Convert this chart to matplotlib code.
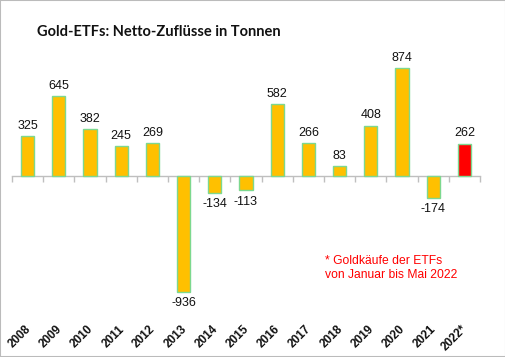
import matplotlib
matplotlib.use("Agg")
import matplotlib.pyplot as plt
from matplotlib.transforms import blended_transform_factory
from matplotlib.patches import Rectangle
import numpy as np

years = ["2008", "2009", "2010", "2011", "2012", "2013", "2014", "2015",
         "2016", "2017", "2018", "2019", "2020", "2021", "2022*"]
values = [325, 645, 382, 245, 269, -936, -134, -113, 582, 266, 83, 408, 874, -174, 262]
colors = ["#FFC000"] * 14 + ["#FF0000"]

title = "Gold-ETFs: Netto-Zuflüsse in Tonnen"
note = "* Goldkäufe der ETFs\nvon Januar bis Mai 2022"

W, H = 506, 357
fig = plt.figure(figsize=(W / 100, H / 100), dpi=100)
fig.patch.set_facecolor("white")

left, right = 12 / W, 480 / W
top_px, bot_px = 40, 300
ax = fig.add_axes([left, 1 - bot_px / H, right - left, (bot_px - top_px) / H])

x = np.arange(len(years))
bars = ax.bar(x, values, width=0.42, color=colors, edgecolor="#7DD88F", linewidth=1.0, zorder=3)

ax.set_xlim(-0.5, len(years) - 0.5)
ax.set_ylim(-1003, 1100)

for s in ["left", "right", "top"]:
    ax.spines[s].set_visible(False)
ax.spines["bottom"].set_position(("data", 0))
ax.spines["bottom"].set_color("#BFBFBF")
ax.spines["bottom"].set_linewidth(1.0)
ax.set_yticks([])
ax.set_xticks([])
ax.set_xticks(np.arange(-0.5, len(years)), minor=True)
ax.tick_params(axis="x", which="minor", direction="out", length=4, color="#BFBFBF", width=1.0)
ax.tick_params(axis="x", which="major", length=0, labelbottom=False)

for xi, v in zip(x, values):
    if v >= 0:
        ax.annotate(str(v), (xi, v), xytext=(0, 3), textcoords="offset points",
                    ha="center", va="bottom", fontsize=9, family="Liberation Sans", color="#111111")
    else:
        ax.annotate(str(v), (xi, v), xytext=(0, -4), textcoords="offset points",
                    ha="center", va="top", fontsize=9, family="Liberation Sans", color="#111111")

tr = blended_transform_factory(ax.transData, fig.transFigure)
for xi, lab in zip(x, years):
    ax.text(xi - 0.1, 1 - 323 / H, lab, transform=tr, rotation=45, rotation_mode="anchor",
            ha="right", va="top", fontsize=8.5, fontweight="bold", family="Liberation Sans",
            color="#111111", clip_on=False)

fig.text(37 / W, 1 - 32 / H, title, fontsize=10.5, fontweight="bold", family="Lato",
         ha="left", va="center", color="#111111")

fig.text(325 / W, 1 - 255 / H, note, fontsize=8.7, family="Liberation Sans", color="#FF0000",
         ha="left", va="top", linespacing=1.25)

fig.patches.append(Rectangle((0, 0), 1, 1, transform=fig.transFigure, fill=False,
                             edgecolor="#BBBBBB", linewidth=1.5))

fig.savefig("out.png", dpi=100)
